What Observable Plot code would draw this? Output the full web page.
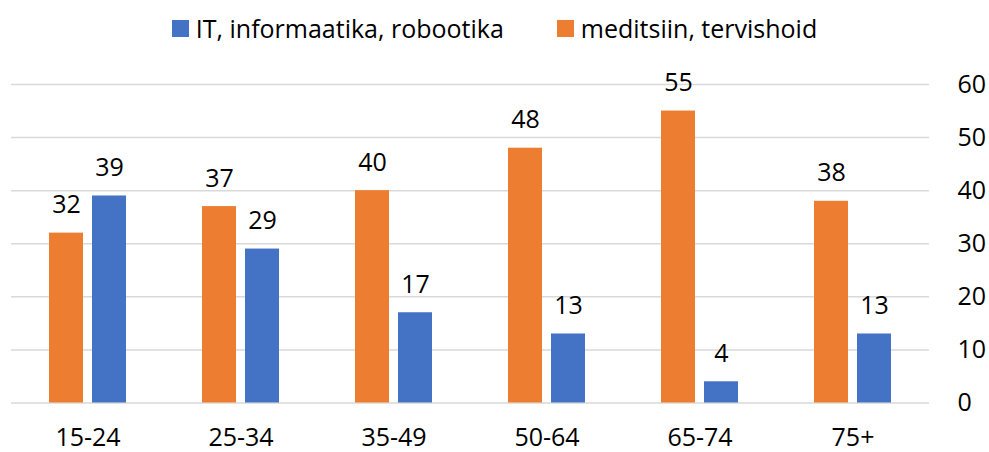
<!DOCTYPE html>
<html><head><meta charset="utf-8">
<script src="https://cdn.jsdelivr.net/npm/d3@7"></script>
<script src="https://cdn.jsdelivr.net/npm/@observablehq/plot@0.6"></script>
<style>
body{margin:0;background:#fff;font-family:"Open Sans",sans-serif;color:#000;}
#legend{height:40px;display:flex;justify-content:center;align-items:center;padding-left:0px;padding-top:16px;box-sizing:border-box;font-size:25px;line-height:1;}
.item{display:flex;align-items:center;}
.item + .item{margin-left:53px;}
.sw{width:17px;height:17px;margin-right:7px;}
#chart svg{display:block;}
</style></head><body>
<div id="legend"></div><div id="chart"></div>
<script>
const ageGroups = ["15-24","25-34","35-49","50-64","65-74","75+"];
const seriesNames = ["IT, informaatika, robootika","meditsiin, tervishoid"];
const itValues = [39,29,17,13,4,13];
const medValues = [32,37,40,48,55,38];
const seriesColors = ["#4472C4","#ED7D31"];
const yTicks = [0,10,20,30,40,50,60];

const rows = ageGroups.flatMap((g,i)=>[
  {group:g, series:seriesNames[1], value:medValues[i]},
  {group:g, series:seriesNames[0], value:itValues[i]}
]);

const legend = document.getElementById("legend");
seriesNames.forEach((name,i)=>{
  const it = document.createElement("div"); it.className="item";
  const sw = document.createElement("div"); sw.className="sw"; sw.style.background=seriesColors[i];
  const tx = document.createElement("span"); tx.textContent=name;
  it.appendChild(sw); it.appendChild(tx); legend.appendChild(it);
});

const chart = Plot.plot({
  width: 989, height: 412,
  marginLeft: 11, marginRight: 60, marginTop: 44, marginBottom: 49.5,
  style: {fontFamily: "Open Sans", fontSize: "25px", color: "#000", background: "#fff"},
  fx: {domain: ageGroups, padding: 0, label: null, axis: "bottom", tickSize: 0, tickPadding: 25},
  x: {domain: [seriesNames[1], seriesNames[0]], paddingInner: 0.211, paddingOuter: 0.864, axis: null},
  y: {domain: [0,60], ticks: yTicks, axis: "right", tickSize: 0, tickPadding: 28, label: null},
  color: {domain: seriesNames, range: seriesColors},
  marks: [
    Plot.ruleY(yTicks, {stroke: "#d9d9d9", strokeWidth: 1.5}),
    Plot.barY(rows, {fx: "group", x: "series", y: "value", fill: "series"}),
    Plot.text(rows, {fx: "group", x: "series", y: "value", text: d => String(d.value), dy: -28, fill: "#000"})
  ]
});
document.getElementById("chart").appendChild(chart);
</script>
</body></html>
